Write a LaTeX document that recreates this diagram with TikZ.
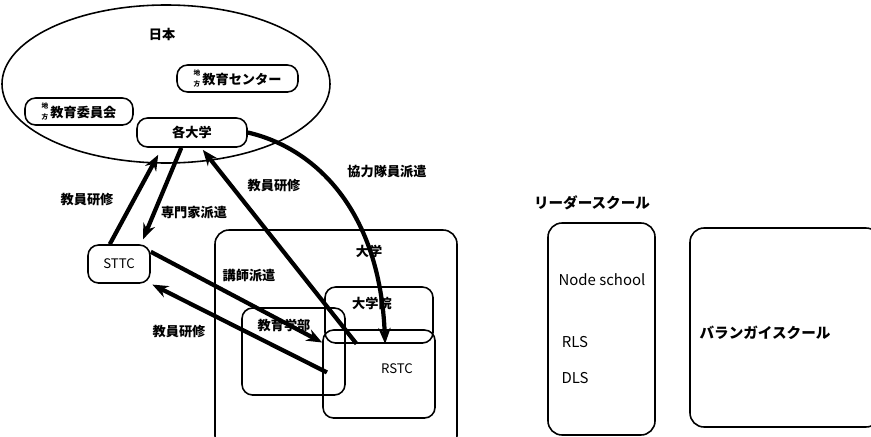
\documentclass[tikz,border=0pt]{standalone}
\usepackage{fontspec}
\setmainfont{Noto Sans CJK JP}
\usetikzlibrary{arrows.meta,shapes.geometric}
\def\pxu{0.02cm}
\newcommand{\chiho}{\raisebox{-1.3pt}{\fontsize{3.8}{4.1}\selectfont\shortstack{地\\方}}\,}
\tikzset{
	box/.style={draw, rounded corners=6pt, line width=0.9pt, inner sep=0pt},
	arr/.style={line width=2.4pt, -{Stealth[length=9pt,width=7pt]}},
	jlbl/.style={font=\fontsize{7.5}{9}\selectfont\bfseries, inner sep=1pt},
	elbl/.style={font=\fontsize{7.5}{9}\selectfont, inner sep=1pt},
	biglbl/.style={font=\fontsize{8.5}{10}\selectfont, inner sep=1pt}
}

\begin{document}
\begin{tikzpicture}[x=\pxu, y=-\pxu]
	\useasboundingbox (0,0) rectangle (871,436);
	\clip (0,0) rectangle (871,436);
	
	\node[draw, ellipse, line width=0.9pt, minimum width=328*\pxu, minimum height=158*\pxu, inner sep=0pt] (japan) at (166,84) {};
	\node[jlbl] (japanlbl) at (162,34) {日本};
	\node[box, minimum width=121*\pxu, minimum height=27*\pxu, font=\fontsize{7.5}{9}\selectfont\bfseries] (center) at (237.5,78.5) {\chiho 教育センター};
	\node[box, minimum width=108*\pxu, minimum height=27*\pxu, font=\fontsize{7.5}{9}\selectfont\bfseries] (board) at (79,111.5) {\chiho 教育委員会};
	\node[box, minimum width=110*\pxu, minimum height=29*\pxu, font=\fontsize{7.5}{9}\selectfont\bfseries] (univs) at (192,132.5) {各大学};
	
	\node[box, minimum width=62*\pxu, minimum height=38*\pxu, font=\fontsize{7.5}{9}\selectfont] (sttc) at (119,264) {STTC};
	
	\node[box, rounded corners=8pt, minimum width=242*\pxu, minimum height=220*\pxu] (univ) at (336,340) {};
	\node[jlbl] (univlbl) at (369,251) {大学};
	\node[box, minimum width=108*\pxu, minimum height=56*\pxu] (grad) at (379,315) {};
	\node[jlbl] (gradlbl) at (372,303) {大学院};
	\node[box, minimum width=103*\pxu, minimum height=87*\pxu] (edu) at (293.5,351.5) {};
	\node[jlbl] (edulbl) at (284,325) {教育学部};
	\node[box, minimum width=112*\pxu, minimum height=88*\pxu] (rstc) at (379,374) {};
	\node[elbl] (rstclbl) at (397,369) {RSTC};
	
	\node[biglbl, font=\fontsize{8.3}{10}\selectfont\bfseries] (leaderlbl) at (592,203) {リーダースクール};
	\node[box, rounded corners=8pt, minimum width=107*\pxu, minimum height=212*\pxu] (nodebox) at (601.5,329) {};
	\node[biglbl] (nodelbl) at (602,280) {Node school};
	\node[biglbl] (rls) at (575,342) {RLS};
	\node[biglbl] (dls) at (575,378) {DLS};
	\node[box, rounded corners=8pt, minimum width=190*\pxu, minimum height=199*\pxu] (brgy) at (785,327.5) {};
	\node[biglbl, font=\fontsize{8.3}{10}\selectfont\bfseries] (brgylbl) at (765,333) {バランガイスクール};
	
	\draw[arr, shorten >=4.5pt] (sttc.115) -- (univs.207);
	\draw[arr, shorten >=3pt] (univs.235) -- (sttc.42);
	\draw[arr, shorten >=1.5pt] (grad.232) -- (univs.301);
	\draw[arr] (univs.east) .. controls (315,148) and (380,210) .. (grad.282);
	\draw[arr] (sttc.21) -- (rstc.151);
	\draw[arr, shorten >=1pt, shorten <=-3pt] (rstc.176) -- (sttc.south east);
	
	\node[jlbl] (trainA) at (87,200) {教員研修};
	\node[jlbl] (expert) at (194,213) {専門家派遣};
	\node[jlbl] (trainB) at (274,186) {教員研修};
	\node[jlbl] (jocv) at (387,172) {協力隊員派遣};
	\node[jlbl] (lecturer) at (249,276) {講師派遣};
	\node[jlbl] (trainC) at (179,332) {教員研修};
\end{tikzpicture}
\end{document}
